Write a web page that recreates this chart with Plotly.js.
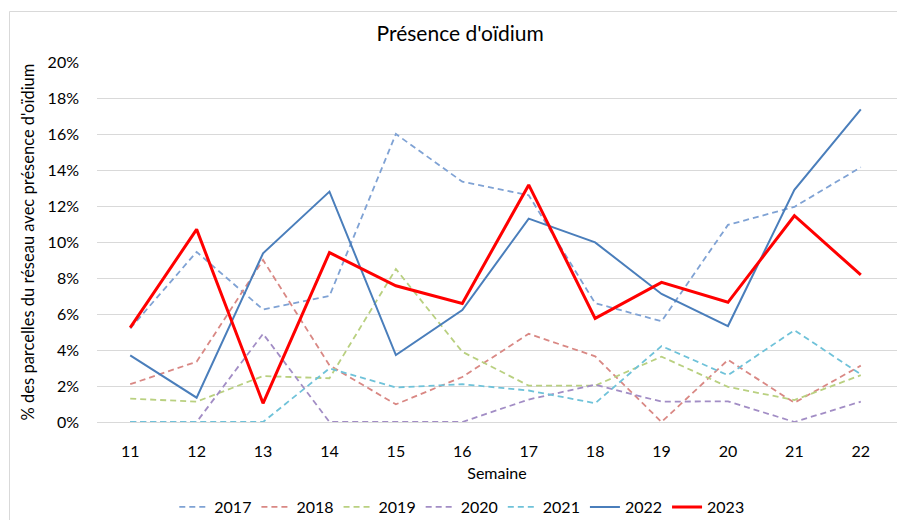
<!DOCTYPE html>
<html>
<head>
<meta charset="utf-8">
<script src="https://cdn.plot.ly/plotly-3.0.1.min.js"></script>
<style>html,body{margin:0;padding:0;background:#fff;}#chart{width:897px;height:520px;}</style>
</head>
<body>
<div id="chart"></div>
<script>
var semaines = ["11","12","13","14","15","16","17","18","19","20","21","22"];
var y2017 = [5.2, 9.45, 6.25, 7.0, 16.0, 13.35, 12.6, 6.6, 5.6, 10.95, 11.95, 14.15];
var y2018 = [2.1, 3.35, 9.0, 3.15, 0.98, 2.5, 4.9, 3.65, 0.0, 3.45, 1.07, 3.13];
var y2019 = [1.3, 1.13, 2.55, 2.43, 8.5, 3.9, 2.02, 2.02, 3.63, 1.95, 1.22, 2.6];
var y2020 = [0, 0, 4.9, 0, 0, 0, 1.25, 2.07, 1.13, 1.15, 0, 1.13];
var y2021 = [0, 0, 0, 2.98, 1.92, 2.1, 1.75, 1.04, 4.22, 2.6, 5.1, 2.65];
var y2022 = [3.7, 1.35, 9.37, 12.8, 3.72, 6.22, 11.3, 9.98, 7.11, 5.33, 12.9, 17.37];
var y2023 = [5.24, 10.7, 1.04, 9.41, 7.57, 6.59, 13.17, 5.76, 7.76, 6.65, 11.46, 8.17];
var seriesNames = ["2017","2018","2019","2020","2021","2022","2023"];
var seriesData = [y2017, y2018, y2019, y2020, y2021, y2022, y2023];
var colors = ["#7FA2D4","#D98884","#B9D080","#A28DC5","#6FC2D9","#4A7EBB","#FF0000"];
var widths = [1.8,1.8,1.8,1.8,1.8,2,3];
var dashes = ["6px,4px","6px,4px","6px,4px","6px,4px","6px,4px","solid","solid"];

var traces = seriesNames.map(function(n,i){
  return {
    x: semaines,
    y: seriesData[i].map(function(v){return v/100;}),
    name: n,
    type: 'scatter',
    mode: 'lines',
    line: {color: colors[i], width: widths[i], dash: dashes[i]},
    hoverinfo: 'skip'
  };
});

var font = "Lato, 'Open Sans', sans-serif";
var layout = {
  width: 897, height: 520,
  margin: {l: 97, r: 0, t: 62, b: 98, autoexpand: false},
  paper_bgcolor: '#fff', plot_bgcolor: '#fff',
  font: {family: font, size: 16, color: '#000'},
  title: {text: "Présence d'oïdium", font: {family: font, size: 21, color: '#000'}, x: 0.513, xanchor: 'center', yref: 'container', y: 1 - 34/520, yanchor: 'middle'},
  xaxis: {
    type: 'category',
    range: [-0.5, 11.545],
    showgrid: false, zeroline: false, showline: false,
    ticks: '', ticklabelstandoff: 18,
    tickfont: {family: font, size: 16},
    title: {text: 'Semaine', font: {family: font, size: 16}, standoff: 8}
  },
  yaxis: {
    range: [0, 0.2],
    dtick: 0.02,
    tickformat: '.0%',
    showgrid: true, gridcolor: '#D9D9D9', gridwidth: 1,
    zeroline: true, zerolinecolor: '#D9D9D9', zerolinewidth: 1,
    showline: false, ticks: '', ticklabelstandoff: 17,
    tickfont: {family: font, size: 16},
    title: {text: "% des parcelles du réseau avec présence d'oïdium", font: {family: font, size: 16.5}, standoff: 8}
  },
  legend: {
    orientation: 'h', x: 0.456, xanchor: 'center', yref: 'container', y: 13/520, yanchor: 'middle',
    font: {family: font, size: 16}, itemwidth: 30, tracegroupgap: 0
  },
  shapes: [{
    type: 'rect', xref: 'paper', yref: 'paper',
    x0: (9.5-97)/800, x1: 1.05, y0: -0.4, y1: 1 + (62-11.5)/360,
    line: {color: '#D9D9D9', width: 1}, fillcolor: 'rgba(0,0,0,0)', layer: 'below'
  }],
  showlegend: true
};

Plotly.newPlot('chart', traces, layout, {displayModeBar: false, staticPlot: true});
</script>
</body>
</html>
